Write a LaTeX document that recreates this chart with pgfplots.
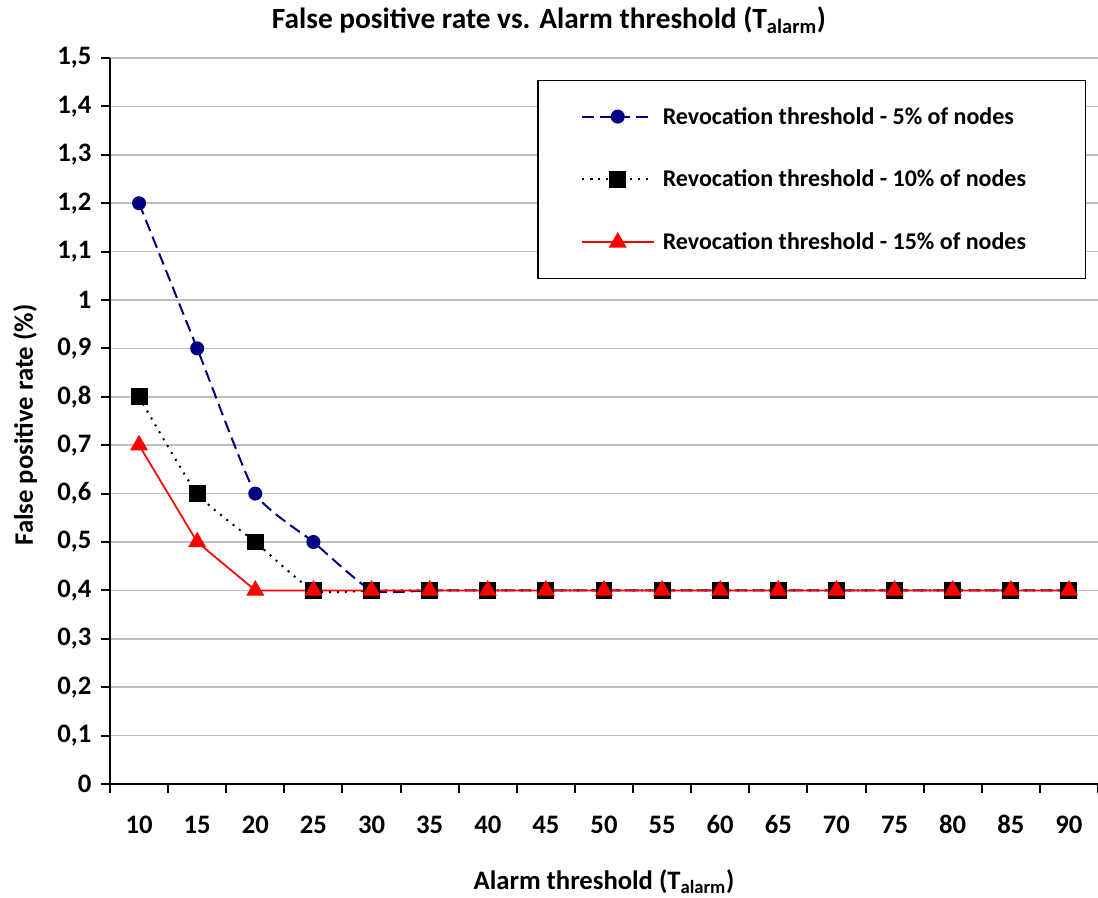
\documentclass[border=0pt]{standalone}
\usepackage{fontspec}
\setmainfont{Carlito}
\usepackage{pgfplots}
\pgfplotsset{compat=1.18}
\definecolor{navy}{RGB}{0,0,128}
\definecolor{xred}{RGB}{255,0,0}
\definecolor{gridgray}{RGB}{191,191,191}
\newcommand{\cf}{\fontsize{20}{24}\selectfont\bfseries}
\newcommand{\lf}{\fontsize{18}{22}\selectfont\bfseries}
\newcommand{\tf}{\fontsize{22}{26}\selectfont\bfseries}
\begin{document}
\begin{tikzpicture}
\useasboundingbox (-82.5pt,-85.5pt) rectangle (741pt,588pt);
\begin{axis}[
  at={(0pt,0pt)}, anchor=south west,
  scale only axis, width=741pt, height=544.5pt,
  xmin=-0.5, xmax=16.5, ymin=0, ymax=1.5,
  axis lines=left,
  axis line style={-, line width=1.5pt, black},
  xtick={0,1,2,3,4,5,6,7,8,9,10,11,12,13,14,15,16},
  xticklabels={10,15,20,25,30,35,40,45,50,55,60,65,70,75,80,85,90},
  major x tick style={draw=none},
  minor xtick={-0.5,0.5,1.5,2.5,3.5,4.5,5.5,6.5,7.5,8.5,9.5,10.5,11.5,12.5,13.5,14.5,15.5,16.5},
  ytick={0,0.1,0.2,0.3,0.4,0.5,0.6,0.7,0.8,0.9,1,1.1,1.2,1.3,1.4,1.5},
  tick align=outside,
  major tick length=6.5pt, minor tick length=6.5pt,
  tick style={line width=1.5pt, black},
  ymajorgrids,
  grid style={line width=1.1pt, gridgray},
  ticklabel style={font=\cf},
  /pgf/number format/assume math mode=true,
  /pgf/number format/use comma,
  xticklabel style={anchor=center, yshift=-24pt},
  yticklabel style={xshift=-4pt},
  xlabel={Alarm threshold (T\textsubscript{alarm})},
  ylabel={False positive rate (\%)},
  every axis x label/.style={at={(axis description cs:0.5,0)}, anchor=center, yshift=-73.5pt, font=\cf},
  every axis y label/.style={at={(axis description cs:0,0.5)}, xshift=-63.75pt, yshift=-3pt, anchor=center, rotate=90, font=\cf},
  legend style={at={(0.988,0.970)}, anchor=north east, draw=black, line width=1.1pt,
    font=\lf, inner xsep=32pt, inner ysep=18pt, row sep=29pt,
    cells={anchor=west},
    /tikz/every odd column/.append style={column sep=4pt}},
  legend image code/.code={\draw[#1, mark repeat=2, mark phase=2] plot coordinates {(0pt,0pt) (27pt,0pt) (54pt,0pt)};},
]
\addplot[navy, line width=1.5pt, dash pattern=on 9pt off 4.5pt, smooth, tension=0.3,
  mark=*, mark size=4.5pt, mark options={solid, fill=navy}]
  coordinates {(0,1.2)(1,0.9)(2,0.6)(3,0.5)(4,0.4)(5,0.4)(6,0.4)(7,0.4)(8,0.4)(9,0.4)(10,0.4)(11,0.4)(12,0.4)(13,0.4)(14,0.4)(15,0.4)(16,0.4)};
\addlegendentry{\makebox[283pt][l]{Revocation threshold - 5\% of nodes}}
\addplot[black, line width=1.5pt, dash pattern=on 1.5pt off 4.5pt, smooth, tension=0.3,
  mark=square*, mark size=5.6pt, mark options={solid, fill=black}]
  coordinates {(0,0.8)(1,0.6)(2,0.5)(3,0.4)(4,0.4)(5,0.4)(6,0.4)(7,0.4)(8,0.4)(9,0.4)(10,0.4)(11,0.4)(12,0.4)(13,0.4)(14,0.4)(15,0.4)(16,0.4)};
\addlegendentry{\makebox[283pt][l]{Revocation threshold - 10\% of nodes}}
\addplot[xred, line width=1.3pt,
  mark=triangle*, mark size=6.5pt, mark options={solid, fill=xred}]
  coordinates {(0,0.7)(1,0.5)(2,0.4)(3,0.4)(4,0.4)(5,0.4)(6,0.4)(7,0.4)(8,0.4)(9,0.4)(10,0.4)(11,0.4)(12,0.4)(13,0.4)(14,0.4)(15,0.4)(16,0.4)};
\addlegendentry{\makebox[283pt][l]{Revocation threshold - 15\% of nodes}}
\end{axis}
\node[font=\tf, anchor=center] at (329.25pt,573pt) {False positive rate vs. Alarm threshold (T\textsubscript{alarm})};
\end{tikzpicture}
\end{document}
